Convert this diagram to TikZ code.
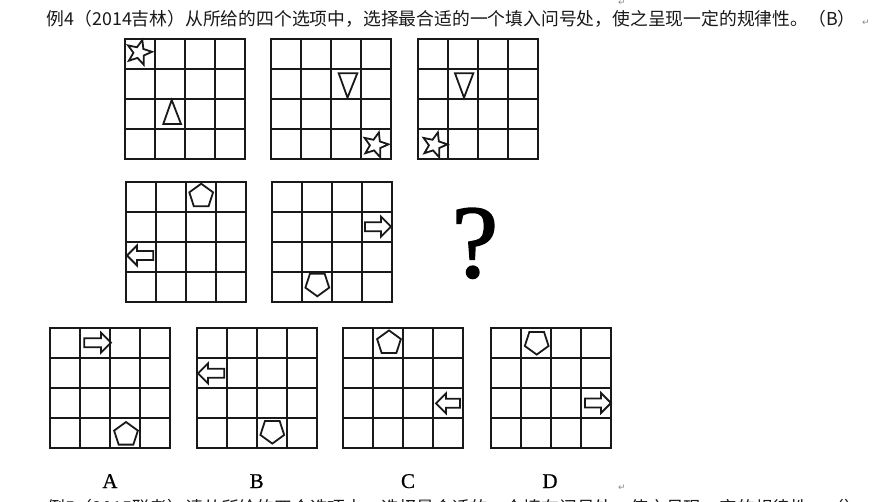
\documentclass[tikz,border=0pt]{standalone}
\usepackage{fontspec}
\setmainfont{Liberation Serif}
\newfontfamily\cjk{Noto Sans CJK SC}
\newfontfamily\symf{DejaVu Sans}
\newfontfamily\qfont[FakeBold=1.6]{Liberation Serif}
\newfontfamily\lblfont[FakeBold=0.6]{Liberation Serif}
\newcommand\gridat[2]{%
  \draw[gline] (#1,#2) rectangle (#1+120,#2+120);
  \foreach \k in {1,2,3}{%
    \draw[gline] (#1+\k*30,#2) -- (#1+\k*30,#2+120);
    \draw[gline] (#1,#2+\k*30) -- (#1+120,#2+\k*30);}}
\newcommand\starat[2]{%
  \draw[shp] ([shift={(#1,#2)}]-75:13)
    \foreach \i in {1,...,9}{ -- ([shift={(#1,#2)}]{-75+\i*36}:{ifthenelse(mod(\i,2)==1,5.6,13)}) } -- cycle;}
\newcommand\pentup[2]{%
  \draw[shp] ([shift={(#1,#2)}]-90:12.5) -- ([shift={(#1,#2)}]-18:12.5) -- ([shift={(#1,#2)}]54:12.5)
    -- ([shift={(#1,#2)}]126:12.5) -- ([shift={(#1,#2)}]198:12.5) -- cycle;}
\newcommand\pentdown[2]{%
  \draw[shp] ([shift={(#1,#2)}]90:12.5) -- ([shift={(#1,#2)}]18:12.5) -- ([shift={(#1,#2)}]-54:12.5)
    -- ([shift={(#1,#2)}]-126:12.5) -- ([shift={(#1,#2)}]-198:12.5) -- cycle;}
\newcommand\rarr[3]{% tail, tip, y
  \draw[shp] (#1,#3-4.5) -- (#2-10,#3-4.5) -- (#2-10,#3-10) -- (#2,#3) -- (#2-10,#3+10)
    -- (#2-10,#3+4.5) -- (#1,#3+4.5) -- cycle;}
\newcommand\larr[3]{% tip, tail, y
  \draw[shp] (#2,#3-4.5) -- (#1+10,#3-4.5) -- (#1+10,#3-10) -- (#1,#3) -- (#1+10,#3+10)
    -- (#1+10,#3+4.5) -- (#2,#3+4.5) -- cycle;}
\begin{document}
\begin{tikzpicture}[x=1pt,y=-1pt,
  gline/.style={line width=1.9pt, black!90},
  shp/.style={line width=1.8pt, black!90, line join=miter},
  cjktext/.style={inner sep=0pt, font=\cjk\fontsize{17.8}{20}\selectfont, text=black!90},
  lbl/.style={inner sep=0pt, anchor=base, font=\lblfont\fontsize{21}{23}\selectfont},
  pmark/.style={inner sep=0pt, font=\symf\fontsize{9}{10}\selectfont, text=black!45},
]
\useasboundingbox (0,0) rectangle (880,502);
\fill[white] (0,0) rectangle (880,502);
\clip (0,0) rectangle (880,502);

% heading
\node[cjktext, anchor=base west] (title) at (46.7,26) {例4（2014吉林）从所给的四个选项中，选择最合适的一个填入问号处，使之呈现一定的规律性。（B）};
\node[pmark] (pm1) at (622,3) {↵};
\node[pmark] (pm2) at (866,23) {↵};

% row 1
\gridat{125}{39}
\gridat{271}{39}
\gridat{418}{39}
\starat{139}{52.5}
\draw[shp] (171.7,100) -- (181,124) -- (163.3,124) -- cycle;
\draw[shp] (338.7,73.3) -- (357.3,73.3) -- (347.5,97.7) -- cycle;
\starat{375.5}{145}
\draw[shp] (455,73.3) -- (473.3,73.3) -- (464,97.7) -- cycle;
\starat{434.5}{145}

% row 2
\gridat{126}{182}
\gridat{272}{182}
\pentup{201.2}{196.2}
\larr{127}{153.3}{255.5}
\rarr{365}{391}{226.7}
\pentdown{317.3}{283.8}
\node[inner sep=0pt, anchor=base, font=\qfont\fontsize{104}{104}\selectfont] (q) at (475,277) {?};

% options
\gridat{50}{328}
\gridat{197}{328}
\gridat{343}{328}
\gridat{491}{328}
\rarr{84.3}{111}{342.7}
\pentup{126}{434.5}
\larr{198}{224.3}{373.3}
\pentdown{272.3}{431.1}
\pentup{389}{342.9}
\larr{436}{460}{403.3}
\pentdown{536.7}{342.1}
\rarr{585}{611}{403}

\node[lbl] (la) at (110,488) {A};
\node[lbl] (lb) at (256.7,488) {B};
\node[lbl] (lc) at (408,488) {C};
\node[lbl] (ld) at (550,488) {D};
\node[pmark] (pm3) at (622,488) {↵};

% next question (cut off at the lower edge, as in the source)
\node[cjktext, anchor=base west] (next) at (47,514) {例5（2015联考）请从所给的四个选项中，选择最合适的一个填在问号处，使之呈现一定的规律性。（）};
\end{tikzpicture}
\end{document}
